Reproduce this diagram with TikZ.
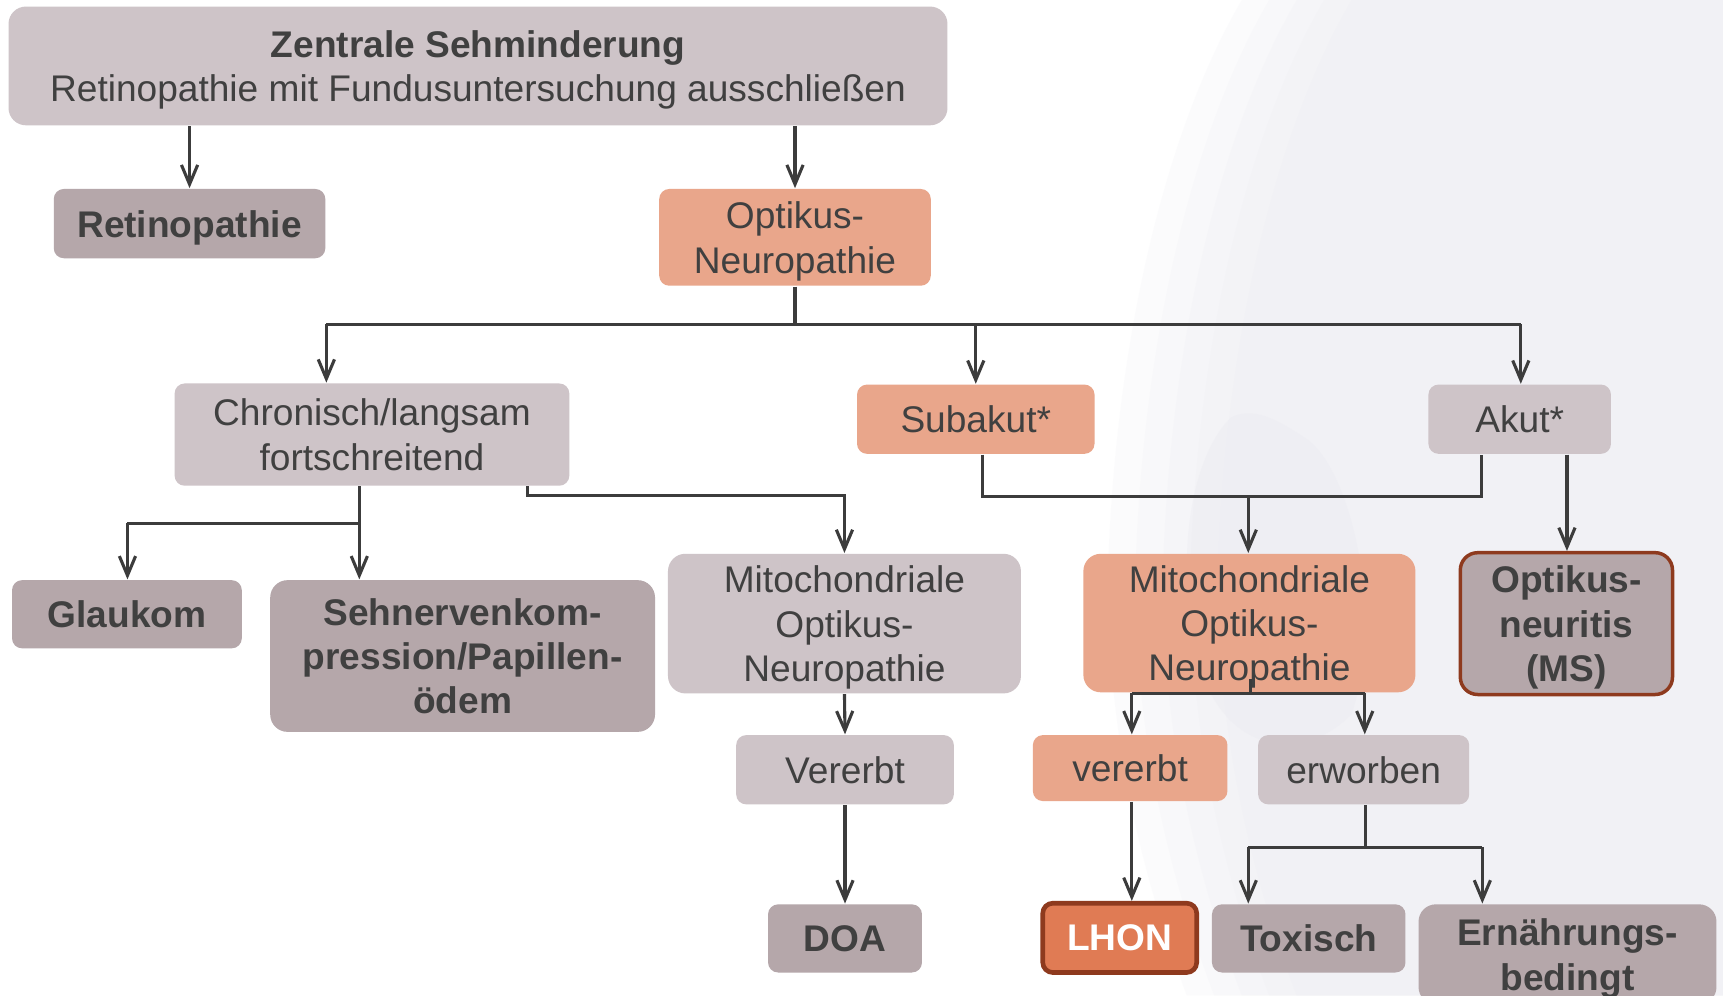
\documentclass[tikz,border=0pt]{standalone}
\usepackage{fontspec}
\setmainfont{Liberation Sans}
\usetikzlibrary{arrows.meta}
\definecolor{lightc}{HTML}{CEC4C8}
\definecolor{darkc}{HTML}{B5A7AA}
\definecolor{salmc}{HTML}{E9A68B}
\definecolor{lhonc}{HTML}{E07B54}
\definecolor{brdc}{HTML}{8E3A1E}
\definecolor{txtc}{HTML}{404040}
\definecolor{linec}{HTML}{3C3C3C}
\definecolor{bgc}{HTML}{E6E6EE}
\newcommand\placebox[7]{%
  \node[#6, minimum width={(#4-#2)*0.28453pt}, minimum height={(#5-#3)*0.28453pt}] (#1) at ({(#2+#4)/2},{(#3+#5)/2}) {#7};}
\begin{document}
\begin{tikzpicture}[x=0.01cm,y=-0.01cm,
  base/.style={rounded corners=2.6pt, align=center, inner sep=0pt, text=txtc, text depth=0pt,
    font=\fontsize{9.6}{11.5}\selectfont},
  lightbox/.style={base, fill=lightc},
  darkbox/.style={base, fill=darkc, font=\fontsize{9.6}{11.5}\selectfont\bfseries},
  salmbox/.style={base, fill=salmc},
  bigr/.style={rounded corners=4.5pt},
  conn/.style={draw=linec, line width=0.8pt},
  arr/.style={conn, -{Straight Barb[length=5pt,width=4.2pt,line width=0.8pt]}}]
\useasboundingbox (0,0) rectangle (1568,906);
\clip (0,0) rectangle (1568,906);
\fill[white] (0,0) rectangle (1568,906);
% faint background silhouette (soft, layered)
\foreach \d/\o in {0/0.12,25/0.12,50/0.12,75/0.12,100/0.12}{
\fill[bgc, opacity=\o] (1568,0) -- ({1130+\d},0) .. controls ({1060+\d},120) and ({1020+\d},300) .. ({1010+\d},480)
  .. controls ({1000+\d},650) and ({1040+\d},800) .. ({1080+\d},906) -- (1568,906) -- cycle;
}
\fill[bgc, opacity=0.25] (1120,380) .. controls (1080,420) and (1070,520) .. (1090,600)
  .. controls (1110,680) and (1180,700) .. (1230,650)
  .. controls (1260,560) and (1230,430) .. (1190,400) .. controls (1160,380) and (1140,370) .. (1120,380) -- cycle;

% boxes
\placebox{top}{8}{6}{862}{114}{lightbox,bigr}{\textbf{Zentrale Sehminderung}\\Retinopathie mit Fundusuntersuchung ausschließen}
\placebox{ret}{49}{172}{296}{235}{darkbox}{Retinopathie}
\placebox{opt}{600}{172}{847}{260}{salmbox}{Optikus-\\Neuropathie}
\placebox{chr}{159}{349}{518}{442}{lightbox}{Chronisch/langsam\\fortschreitend}
\placebox{sub}{780}{350}{996}{413}{salmbox}{Subakut*}
\placebox{akut}{1300}{350}{1466}{413}{lightbox}{Akut*}
\placebox{gla}{11}{528}{220}{590}{darkbox}{Glaukom}
\placebox{seh}{246}{528}{596}{666}{darkbox,bigr}{Sehnervenkom-\\pression/Papillen-\\ödem}
\placebox{mitoa}{608}{504}{929}{631}{lightbox,bigr}{Mitochondriale\\Optikus-\\Neuropathie}
\placebox{mitob}{986}{504}{1288}{630}{salmbox,bigr}{Mitochondriale\\Optikus-\\Neuropathie}
\placebox{onm}{1329}{503}{1522}{632}{darkbox,bigr,draw=brdc,line width=0.9pt}{Optikus-\\neuritis\\(MS)}
\placebox{ver}{670}{669}{868}{732}{lightbox}{Vererbt}
\placebox{verb}{940}{669}{1117}{729}{salmbox}{vererbt}
\placebox{erw}{1145}{669}{1337}{732}{lightbox}{erworben}
\placebox{doa}{699}{823}{839}{885}{darkbox}{DOA}
\placebox{lhon}{949}{822}{1089}{885}{darkbox,fill=lhonc,draw=brdc,line width=1.2pt,text=white}{LHON}
\placebox{tox}{1103}{823}{1279}{885}{darkbox}{Toxisch}
\placebox{ern}{1291}{823}{1562}{914}{darkbox,bigr}{Ernährungs-\\bedingt}

% connectors
\draw[arr] (ret.north |- top.south) -- (ret.north);
\draw[arr] (opt.north |- top.south) -- (opt.north);

\coordinate (busc) at (723.5,295);
\coordinate (busl) at (297,295);
\coordinate (busr) at (1384,295);
\draw[conn] (opt.south) -- (busc);
\draw[conn] (busl) -- (busr);
\draw[arr] (busl) -- (busl |- chr.north);
\draw[arr] (sub.north |- busl) -- (sub.north);
\draw[arr] (busr) -- (busr |- akut.north);

\coordinate (chrx) at (327,476);
\coordinate (chry) at (116,476);
\draw[arr] (chrx |- chr.south) -- (chrx |- seh.north);
\draw[conn] (chrx) -- (chry);
\draw[arr] (chry) -- (chry |- gla.north);

\coordinate (chra) at (480,451);
\draw[arr] (chra |- chr.south) -- (chra) -| (mitoa.north);

\coordinate (suba) at (894,452);
\coordinate (akuta) at (1348,452);
\coordinate (mbx) at (1136,452);
\draw[conn] (suba |- sub.south) -- (suba) -- (akuta) -- (akuta |- akut.south);
\draw[arr] (mbx) -- (mbx |- mitob.north);
\coordinate (akutb) at (1426,413);
\draw[arr] (akutb |- akut.south) -- (akutb |- onm.north);

\draw[arr] (mitoa.south) -- (ver.north);
\draw[arr] (ver.south) -- (doa.north);

\coordinate (mba) at (1138,618);
\coordinate (mbl) at (1030,631);
\coordinate (mbr) at (1242,631);
\draw[conn] (mba) -- (mba |- mbl);
\draw[conn] (mbl) -- (mbr);
\draw[arr] (mbl) -- (mbl |- verb.north);
\draw[arr] (mbr) -- (mbr |- erw.north);

\coordinate (verx) at (1030,729);
\draw[arr] (verx |- verb.south) -- (verx |- lhon.north);

\coordinate (erwc) at (1243,771);
\coordinate (erwl) at (1136,771);
\coordinate (erwr) at (1349,771);
\draw[conn] (erwc |- erw.south) -- (erwc);
\draw[conn] (erwl) -- (erwr);
\draw[arr] (erwl) -- (erwl |- tox.north);
\draw[arr] (erwr) -- (erwr |- ern.north);
\end{tikzpicture}
\end{document}
